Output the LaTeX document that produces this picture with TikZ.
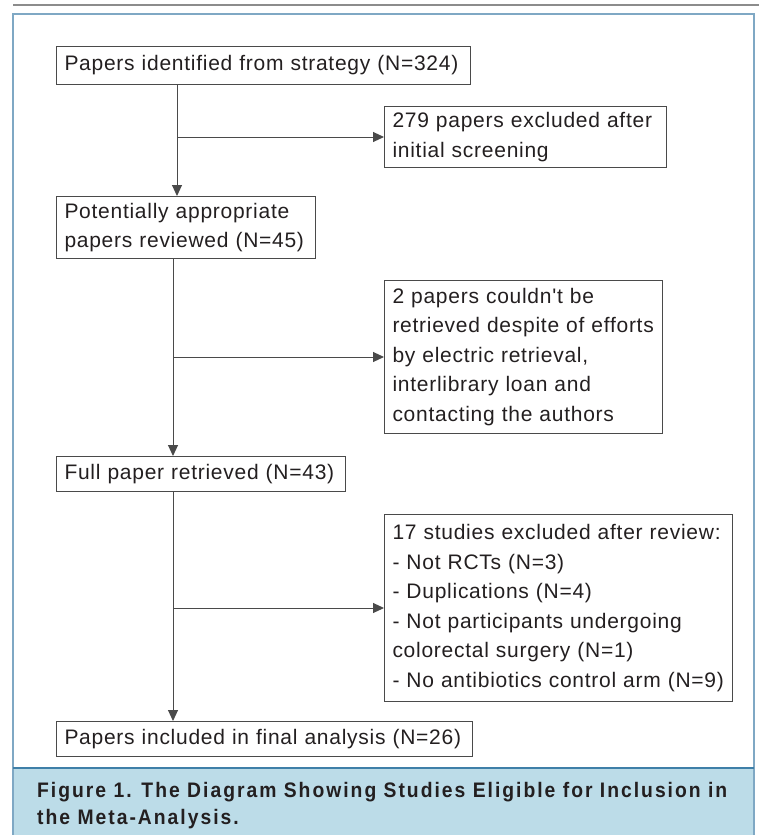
\documentclass[tikz,border=0pt]{standalone}
\usepackage{fontspec}
\setmainfont{Liberation Sans}
\newfontfamily\bodyfont[LetterSpace=3.5]{Liberation Sans}
\newfontfamily\capfont[LetterSpace=9.5,FakeStretch=0.92]{Liberation Sans Bold}
\usetikzlibrary{arrows.meta}
\definecolor{linegray}{HTML}{4A4A4A}
\definecolor{textdark}{HTML}{231F20}
\definecolor{framecol}{HTML}{7FA8C4}
\definecolor{capfill}{HTML}{BCDCE8}
\definecolor{capline}{HTML}{3F7FA8}
\definecolor{rulegray}{HTML}{8C8C8C}
\tikzset{
  box/.style={draw=linegray, line width=1pt, rectangle, anchor=north west,
    inner xsep=8pt, inner ysep=0pt, align=left, text=textdark,
    font=\bodyfont\fontsize{21pt}{29.5pt}\selectfont},
  arr/.style={draw=linegray, line width=1pt, -{Triangle[length=11pt,width=10pt]}},
}
\begin{document}
\begin{tikzpicture}[x=1pt,y=-1pt]
\useasboundingbox (0,0) rectangle (759,835);
% top rule, frame and caption band
\draw[rulegray, line width=2.5pt] (13,5) -- (759,5);
\fill[capfill] (13,768) rectangle (754,835);
\draw[framecol, line width=1.5pt] (13,836) -- (13,14) -- (754,14) -- (754,836);
\draw[capline, line width=1.2pt] (13,768) -- (754,768);
% boxes
\node[box, minimum width=414pt, minimum height=38pt, text width=398pt] (b1) at (56,46)
  {Papers identified from strategy (N=324)};
\node[box, minimum width=282pt, minimum height=61pt, text width=266pt] (b279) at (384,106)
  {279 papers excluded after\\initial screening};
\node[box, minimum width=259pt, minimum height=62pt, text width=243pt] (b2) at (56,196)
  {Potentially appropriate\\papers reviewed (N=45)};
\node[box, minimum width=278pt, minimum height=153pt, text width=262pt] (bret) at (384,280)
  {2 papers couldn't be\\retrieved despite of efforts\\by electric retrieval,\\interlibrary loan and\\contacting the authors};
\node[box, minimum width=289pt, minimum height=35pt, text width=273pt] (b3) at (56,456)
  {Full paper retrieved (N=43)};
\node[box, minimum width=348pt, minimum height=187pt, text width=332pt] (b17) at (384,514)
  {17 studies excluded after review:\\- Not RCTs (N=3)\\- Duplications (N=4)\\- Not participants undergoing\\colorectal surgery (N=1)\\- No antibiotics control arm (N=9)};
\node[box, minimum width=416pt, minimum height=35pt, text width=400pt] (b4) at (56,721)
  {Papers included in final analysis (N=26)};
% connectors
\coordinate (v1) at (177,0);
\coordinate (v2) at (173,0);
\draw[arr] (b1.south -| v1) -- (b2.north -| v1);
\draw[arr] (v1 |- b279.west) -- (b279.west);
\draw[arr] (b2.south -| v2) -- (b3.north -| v2);
\draw[arr] (v2 |- bret.west) -- (bret.west);
\draw[arr] (b3.south -| v2) -- (b4.north -| v2);
\draw[arr] (v2 |- b17.west) -- (b17.west);
% caption
\node[anchor=north west, align=left, inner sep=0pt, text=textdark,
  font=\capfont\fontsize{21pt}{27.5pt}\selectfont] (cap) at (37,782)
  {Figure 1. The Diagram Showing Studies Eligible for Inclusion in\\the Meta-Analysis.};
\end{tikzpicture}
\end{document}
